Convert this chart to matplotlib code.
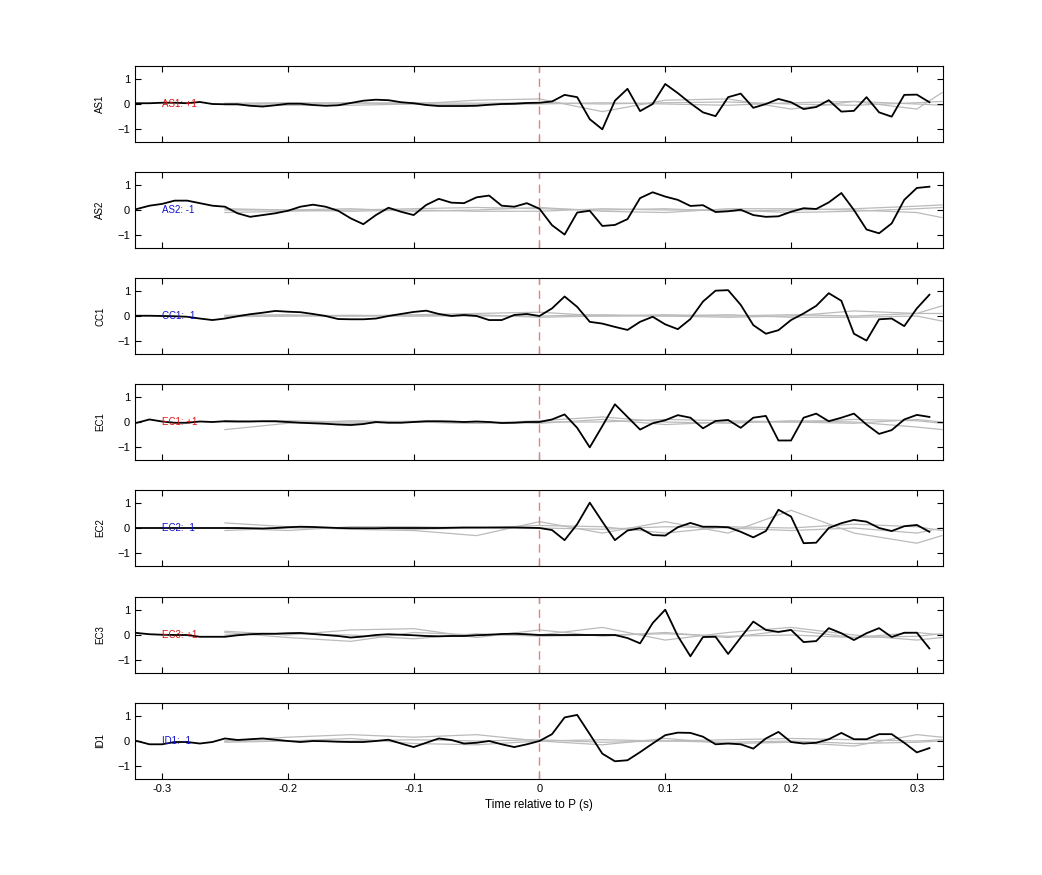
import numpy as np
import matplotlib
matplotlib.use("Agg")
import matplotlib.pyplot as plt

plt.rcParams['font.family'] = ['Liberation Sans', 'DejaVu Sans']

stations = ["AS1", "AS2", "CC1", "EC1", "EC2", "EC3", "ID1"]
polarities = ["+1", "-1", "-1", "+1", "-1", "+1", "-1"]
pol_colors = ["#dd1111", "#1111cc", "#1111cc", "#dd1111", "#1111cc", "#dd1111", "#1111cc"]

t = np.round(np.arange(-0.32, 0.315, 0.01), 2)  # 64 samples

AS1 = [0.03,0.03,0.05,0.05,0.03,0.08,0,-0.01,-0.01,-0.07,-0.1,-0.05,0.01,0.01,-0.04,-0.07,-0.05,0.04,0.13,0.17,0.15,0.07,0.03,-0.04,-0.08,-0.08,-0.08,-0.07,-0.03,0,0.01,0.04,
       0.05,0.1,0.36,0.27,-0.6,-1.0,0.13,0.6,-0.28,0,0.79,0.43,0.03,-0.33,-0.48,0.27,0.41,-0.15,0,0.2,0.07,-0.2,-0.12,0.15,-0.3,-0.27,0.27,-0.33,-0.5,0.36,0.37,0.07]
AS2 = [0.04,0.17,0.24,0.37,0.37,0.27,0.17,0.13,-0.13,-0.27,-0.2,-0.13,-0.03,0.13,0.21,0.13,-0.03,-0.33,-0.56,-0.2,0.09,-0.07,-0.2,0.2,0.44,0.29,0.27,0.5,0.57,0.17,0.13,0.27,
       0.05,-0.6,-0.97,-0.1,-0.03,-0.63,-0.59,-0.36,0.47,0.7,0.53,0.4,0.16,0.19,-0.08,-0.05,0.01,-0.2,-0.27,-0.25,-0.07,0.07,0.04,0.3,0.67,0,-0.77,-0.92,-0.53,0.4,0.87,0.92]
CC1 = [0.01,0.01,0,-0.01,-0.03,-0.1,-0.16,-0.1,-0.01,0.07,0.13,0.2,0.17,0.15,0.08,0,-0.12,-0.13,-0.13,-0.1,0,0.08,0.16,0.21,0.08,0,0.04,0,-0.16,-0.16,0.04,0.08,
       0,0.3,0.77,0.36,-0.23,-0.3,-0.43,-0.55,-0.23,-0.03,-0.33,-0.52,-0.12,0.57,1.0,1.02,0.44,-0.36,-0.7,-0.56,-0.16,0.1,0.4,0.9,0.6,-0.7,-0.97,-0.13,-0.1,-0.4,0.3,0.84]
EC1 = [-0.03,0.1,0.02,-0.03,-0.03,0.02,0,0.03,0.02,0.02,0.03,0.03,0,-0.03,-0.05,-0.07,-0.1,-0.12,-0.08,0,-0.03,-0.03,0,0.03,0.03,0.02,0,0.02,0,-0.04,-0.03,0,
       0,0.1,0.3,-0.23,-1.0,-0.16,0.7,0.2,-0.3,-0.05,0.07,0.27,0.17,-0.25,0.04,0.08,-0.23,0.17,0.24,-0.73,-0.73,0.17,0.33,0.03,0.17,0.33,-0.1,-0.47,-0.32,0.1,0.28,0.2]
EC2 = [0,0,0,0,0,0,0,0,0,-0.01,-0.02,0,0.03,0.05,0.04,0.02,0,-0.01,-0.01,-0.01,0,0,0,0,0,0.01,0.02,0.02,0.02,0.02,0.02,0.01,
       0,-0.08,-0.48,0.15,1.0,0.25,-0.48,-0.1,-0.01,-0.28,-0.3,0.03,0.2,0.05,0.05,0.03,-0.15,-0.37,-0.12,0.72,0.45,-0.6,-0.58,0,0.19,0.32,0.25,0,-0.12,0.07,0.12,-0.15]
EC3 = [0.08,0.03,0.01,0,0,-0.07,-0.07,-0.07,-0.01,0.03,0.05,0.05,0.07,0.08,0.04,0,-0.04,-0.1,-0.06,0,0.03,0.01,-0.01,-0.04,-0.05,-0.04,-0.04,-0.01,0.01,0.04,0.05,0.03,
       0,0,0,0,0,0,0,-0.12,-0.33,0.47,1.0,-0.04,-0.84,-0.08,-0.07,-0.75,-0.1,0.53,0.2,0.12,0.2,-0.28,-0.24,0.27,0.07,-0.2,0.07,0.27,-0.08,0.09,0.09,-0.53]
ID1 = [0,-0.13,-0.13,-0.04,-0.04,-0.1,-0.04,0.1,0.04,0.07,0.1,0.05,0,-0.04,0,-0.01,-0.03,-0.04,-0.04,0,0.05,-0.1,-0.24,-0.07,0.1,0.04,-0.1,-0.07,0,-0.13,-0.24,-0.13,
       0,0.27,0.93,1.03,0.27,-0.5,-0.8,-0.76,-0.44,-0.1,0.23,0.33,0.32,0.17,-0.13,-0.1,-0.13,-0.3,0.1,0.36,-0.04,-0.1,-0.07,0.07,0.32,0.07,0.07,0.27,0.27,-0.07,-0.45,-0.28]
traces = [AS1, AS2, CC1, EC1, EC2, EC3, ID1]

# gray reference traces sampled every 0.05 s from -0.25 to 0.30, plus 0.32
tg = [-0.25,-0.20,-0.15,-0.10,-0.05,0.00,0.05,0.10,0.15,0.20,0.25,0.30,0.32]
gray = [
    [[0,0.02,0.05,0,0.15,0.2,-0.3,0.15,0.2,-0.2,0.1,-0.2,0.45],
     [0.03,0.05,0.03,0.05,0.03,0.05,0.0,0.05,0.08,0.0,-0.05,0.05,0.1],
     [-0.03,-0.05,-0.05,0.0,-0.03,0.0,0.05,0.0,-0.05,0.05,0.1,0.0,-0.05]],
    [[-0.1,-0.05,0.0,0.05,0.1,0.05,0.0,0.05,-0.05,0.0,0.05,0.15,0.2],
     [0.0,0.0,-0.05,0.0,-0.05,-0.05,0.05,0.0,0.0,-0.1,-0.05,0.05,0.1],
     [0.05,0.0,0.05,-0.05,0.0,0.1,-0.05,-0.1,0.05,0.05,0.0,-0.1,-0.3]],
    [[0.03,0.05,0.0,0.05,0.1,0.15,0.0,0.0,-0.05,0.0,0.2,0.1,0.4],
     [0.0,0.0,0.0,0.0,0.0,0.0,0.05,0.0,0.05,-0.05,-0.05,0.0,-0.2],
     [-0.03,0.0,0.03,0.0,0.05,-0.05,0.0,0.05,0.0,0.05,0.0,0.1,0.1]],
    [[-0.3,-0.05,0.05,0.0,-0.05,0.05,0.2,0.0,-0.05,0.05,0.0,-0.2,-0.3],
     [0.05,0.0,-0.05,0.0,-0.05,0.0,0.0,0.1,0.05,0.0,0.1,0.05,-0.05],
     [0.0,0.05,0.0,0.03,0.0,-0.05,0.1,-0.1,0.0,0.0,-0.05,0.1,0.0]],
    [[0.2,0.05,-0.05,-0.1,-0.3,0.25,-0.2,0.25,-0.2,0.7,-0.2,-0.6,-0.3],
     [0.0,-0.1,0.05,0.05,0.0,0.1,0.05,-0.2,0.05,0.0,0.15,0.05,-0.1],
     [-0.1,0.0,0.0,-0.05,0.0,0.0,-0.05,0.05,0.0,-0.1,0.0,-0.2,0.0]],
    [[0.15,0.0,0.2,0.25,-0.1,0.2,-0.05,0.1,-0.1,0.2,-0.1,0.1,0.0],
     [0.1,-0.1,-0.25,0.1,0.0,0.0,0.3,-0.2,0.1,0.3,0.0,-0.2,-0.1],
     [0.0,0.05,0.0,-0.15,0.05,-0.05,0.0,0.05,-0.05,0.0,-0.1,-0.05,0.05]],
    [[0.0,0.15,0.25,0.15,0.25,0.0,-0.15,0.1,-0.1,-0.05,-0.2,0.25,0.15],
     [0.0,0.0,0.1,-0.1,-0.15,0.0,0.05,0.0,0.05,0.1,0.05,0.0,0.05],
     [-0.05,0.0,0.0,0.05,0.0,0.05,-0.05,0.0,-0.05,0.0,-0.1,-0.05,0.0]],
]

W, H = 1042, 875
fig = plt.figure(figsize=(W/100, H/100), dpi=100)
tops = [66, 172, 278, 384, 490, 597, 703]
ph = 76
for i, st in enumerate(stations):
    ax = fig.add_axes([135/W, 1-(tops[i]+ph)/H, 808/W, ph/H])
    for g in gray[i]:
        ax.plot(tg, g, color='#bbbbbb', lw=0.9, zorder=1)
    ax.axvline(0, color='#e88080', lw=1.0, ls=(0, (6, 4)), zorder=2)
    ax.plot(t, traces[i], color='black', lw=1.3, zorder=3)
    ax.text(-0.3, 0, f"{st}: {polarities[i]}", color=pol_colors[i], fontsize=7,
            va='center', ha='left', zorder=4)
    ax.set_xlim(-0.3215, 0.3208)
    ax.set_ylim(-1.5, 1.5)
    ax.set_yticks([-1, 0, 1])
    ax.set_xticks([-0.3, -0.2, -0.1, 0, 0.1, 0.2, 0.3])
    ax.tick_params(direction='in', top=True, right=True, labelsize=8, length=4, width=0.8)
    ax.set_ylabel(st, fontsize=7)
    ax.yaxis.set_label_coords(-0.037, 0.5)
    for s in ax.spines.values():
        s.set_linewidth(0.8)
    if i < len(stations)-1:
        ax.set_xticklabels([])
    else:
        ax.set_xticklabels(['-0.3', '-0.2', '-0.1', '0', '0.1', '0.2', '0.3'])
        ax.set_xlabel('Time relative to P (s)', fontsize=8.5)

fig.savefig('out.png', dpi=100)
